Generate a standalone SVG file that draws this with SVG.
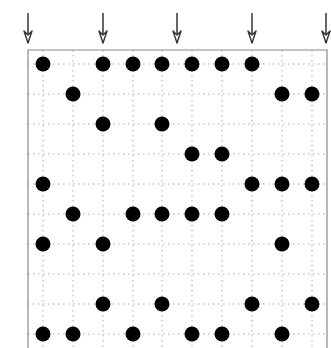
<svg xmlns="http://www.w3.org/2000/svg" width="331" height="348" viewBox="0 0 331 348">
<defs>
<style>
.grid{stroke:#aaaaaa;stroke-width:1;stroke-dasharray:1.5 3.5;fill:none}
.frame{stroke:#8a8a8a;stroke-width:1.2;fill:none}
.arr{stroke:#333;stroke-width:1.5;fill:none}
.dot{fill:#000}
</style>
<marker id="ah" viewBox="0 0 14 10" refX="13" refY="5" markerWidth="14" markerHeight="10" markerUnits="userSpaceOnUse" orient="auto">
<path d="M1,1 L5,5 L1,9 L13,5 Z" fill="#fff" stroke="#333" stroke-width="1.4" stroke-linejoin="round"/>
</marker>
</defs>
<rect width="331" height="348" fill="#fff"/>
<g id="grid">
<path class="grid" d="M43,50V348M73,50V348M103,50V348M133,50V348M162,50V348M192,50V348M222,50V348M252,50V348M282,50V348M312,50V348"/>
<path class="grid" d="M28,64H327M28,94H327M28,124H327M28,154H327M28,184H327M28,214H327M28,244H327M28,274H327M28,304H327M28,334H327"/>
<path class="frame" d="M28,350V50H327V350"/>
</g>
<g id="connectors">
<line class="arr" x1="28" y1="13" x2="28" y2="43" marker-end="url(#ah)"/>
<line class="arr" x1="103" y1="13" x2="103" y2="43" marker-end="url(#ah)"/>
<line class="arr" x1="177" y1="13" x2="177" y2="43" marker-end="url(#ah)"/>
<line class="arr" x1="252" y1="13" x2="252" y2="43" marker-end="url(#ah)"/>
<line class="arr" x1="326" y1="13" x2="326" y2="43" marker-end="url(#ah)"/>
</g>
<g id="dots" class="dot">
<g id="row0"><circle cx="43" cy="64" r="7.5"/><circle cx="103" cy="64" r="7.5"/><circle cx="133" cy="64" r="7.5"/><circle cx="162" cy="64" r="7.5"/><circle cx="192" cy="64" r="7.5"/><circle cx="222" cy="64" r="7.5"/><circle cx="252" cy="64" r="7.5"/></g>
<g id="row1"><circle cx="73" cy="94" r="7.5"/><circle cx="282" cy="94" r="7.5"/><circle cx="312" cy="94" r="7.5"/></g>
<g id="row2"><circle cx="103" cy="124" r="7.5"/><circle cx="162" cy="124" r="7.5"/></g>
<g id="row3"><circle cx="192" cy="154" r="7.5"/><circle cx="222" cy="154" r="7.5"/></g>
<g id="row4"><circle cx="43" cy="184" r="7.5"/><circle cx="252" cy="184" r="7.5"/><circle cx="282" cy="184" r="7.5"/><circle cx="312" cy="184" r="7.5"/></g>
<g id="row5"><circle cx="73" cy="214" r="7.5"/><circle cx="133" cy="214" r="7.5"/><circle cx="162" cy="214" r="7.5"/><circle cx="192" cy="214" r="7.5"/><circle cx="222" cy="214" r="7.5"/></g>
<g id="row6"><circle cx="43" cy="244" r="7.5"/><circle cx="103" cy="244" r="7.5"/><circle cx="282" cy="244" r="7.5"/></g>
<g id="row8"><circle cx="103" cy="304" r="7.5"/><circle cx="162" cy="304" r="7.5"/><circle cx="252" cy="304" r="7.5"/><circle cx="312" cy="304" r="7.5"/></g>
<g id="row9"><circle cx="43" cy="334" r="7.5"/><circle cx="73" cy="334" r="7.5"/><circle cx="133" cy="334" r="7.5"/><circle cx="192" cy="334" r="7.5"/><circle cx="222" cy="334" r="7.5"/><circle cx="282" cy="334" r="7.5"/></g>
</g>
</svg>
